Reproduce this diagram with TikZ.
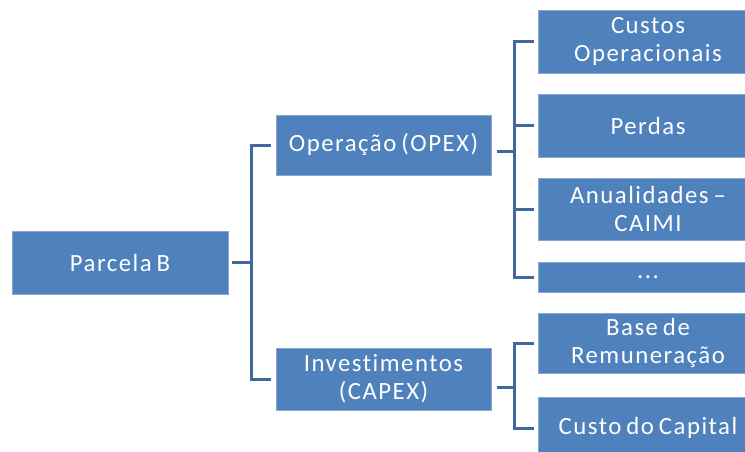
\documentclass[tikz,border=0pt]{standalone}
\usepackage{fontspec}
\setmainfont{Carlito}[LetterSpace=6, WordSpace=0.7, Ligatures=NoCommon]
\definecolor{boxblue}{HTML}{4F81BD}
\definecolor{boxedge}{HTML}{86A8D3}
\definecolor{linkblue}{HTML}{41699E}
\begin{document}
\begin{tikzpicture}[x=1pt,y=-1pt,
  box/.style={rectangle, fill=boxblue, draw=boxedge, line width=0.8pt, text=white,
    font=\fontsize{24.8}{28}\selectfont, align=center, inner sep=0pt},
  link/.style={draw=linkblue, line width=3pt}]
\useasboundingbox (0,0) rectangle (745,452);
\fill[white] (0,0) rectangle (745,452);
\node[box, minimum width=216, minimum height=63] (pb) at (120,262.5) {Parcela B};
\node[box, minimum width=215, minimum height=60] (op) at (383.5,145) {Operação (OPEX)};
\node[box, minimum width=215, minimum height=62] (inv) at (383.5,379) {Investimentos\\(CAPEX)};
\node[box, minimum width=220, minimum height=63] (c1) at (648,41.5) {Custos\\Operacionais};
\node[box, minimum width=220, minimum height=63] (c2) at (648,125.5) {Perdas};
\node[box, minimum width=220, minimum height=62] (c3) at (648,209) {Anualidades –\\CAIMI};
\node[box, minimum width=220, minimum height=30] (c4) at (648,277) {...};
\node[box, minimum width=220, minimum height=60] (c5) at (648,343) {Base de\\Remuneração};
\node[box, minimum width=220, minimum height=62] (c6) at (648,428) {Custo do Capital};
% Parcela B -> OPEX / CAPEX
\draw[link] ([xshift=4]pb.east) -- ([xshift=24]pb.east);
\draw[link] ([xshift=-5]op.west) -- ([xshift=-24]op.west) -- ([xshift=-24]inv.west) -- ([xshift=-5]inv.west);
% OPEX -> children
\coordinate (jo) at ([xshift=-23]c1.west);
\coordinate (opx) at ([xshift=6,yshift=-6]op.east);
\draw[link] (opx) -- (opx -| jo);
\draw[link] ([xshift=-4]c1.west) -- (jo) -- ([xshift=-23]c4.west) -- ([xshift=-4]c4.west);
\draw[link] ([xshift=-4]c2.west) -- ([xshift=-23]c2.west);
\draw[link] ([xshift=-4]c3.west) -- ([xshift=-23]c3.west);
% CAPEX -> children
\coordinate (jc) at ([xshift=-23]c5.west);
\coordinate (inx) at ([xshift=6,yshift=-8]inv.east);
\draw[link] (inx) -- (inx -| jc);
\draw[link] ([xshift=-4]c5.west) -- (jc) -- ([xshift=-23]c6.west) -- ([xshift=-4]c6.west);
\end{tikzpicture}
\end{document}
